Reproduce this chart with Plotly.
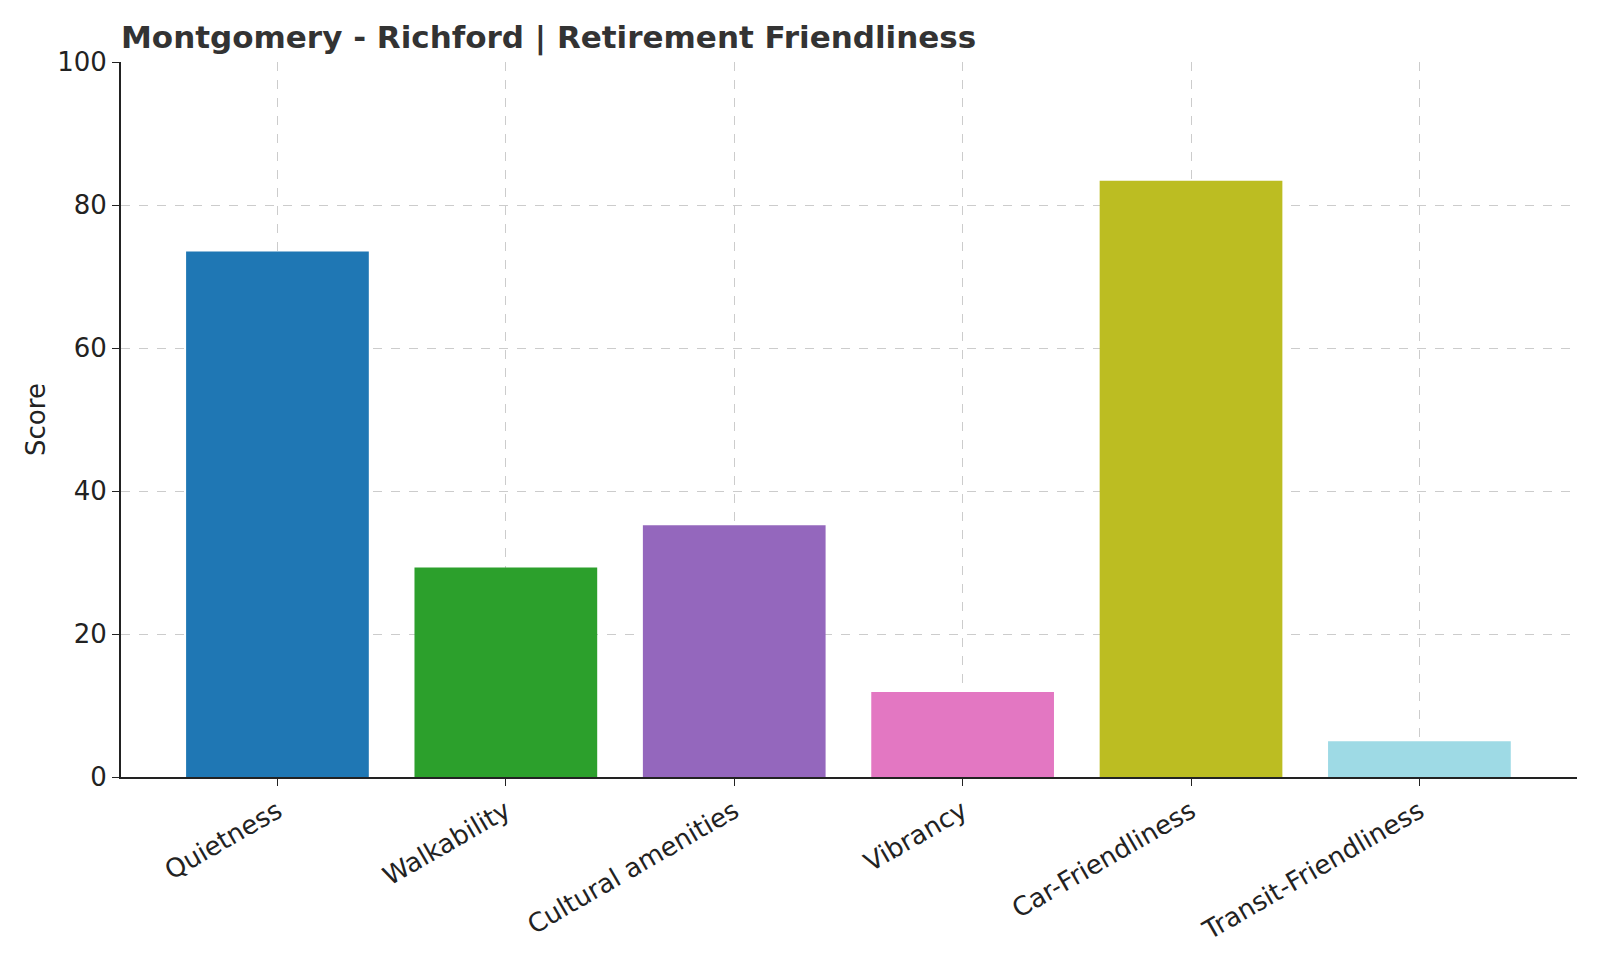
import plotly.graph_objects as go

categories = ["Quietness", "Walkability", "Cultural amenities", "Vibrancy",
              "Car-Friendliness", "Transit-Friendliness"]
scores = [73.5, 29.3, 35.2, 11.9, 83.4, 5.0]
bar_colors = ["#1f77b4", "#2ca02c", "#9467bd", "#e377c2", "#bcbd22", "#9edae5"]
y_ticks = [0, 20, 40, 60, 80, 100]

font_family = "DejaVu Sans"

fig = go.Figure()
fig.add_trace(go.Bar(x=categories, y=scores, marker_color=bar_colors,
                     marker_line_width=0, width=0.8))

# page body has an 8px margin, so keep the figure inside the window
fig.update_layout(
    width=1584, height=944,
    margin=dict(l=113, r=15, t=54, b=175),
    plot_bgcolor="white", paper_bgcolor="white",
    font=dict(family=font_family, size=26, color="#222222"),
    showlegend=False,
    title=dict(text="<b>Montgomery - Richford | Retirement Friendliness</b>",
               font=dict(family=font_family, size=31, color="#333333"),
               xref="paper", x=0, xanchor="left",
               yref="container", y=1 - 29 / 944, yanchor="middle"),
)

fig.update_xaxes(
    range=[-0.685, 5.69], tickangle=-30, automargin=False,
    showline=True, linecolor="#222222", linewidth=1.8,
    ticks="outside", ticklen=7, tickcolor="#222222",
    showgrid=True, gridcolor="#cccccc", griddash="dash", gridwidth=1,
    layer="above traces",
)
fig.update_yaxes(
    range=[0, 100], tickvals=y_ticks,
    showline=True, linecolor="#222222", linewidth=1.8,
    ticks="outside", ticklen=7, tickcolor="#222222",
    showgrid=True, gridcolor="#cccccc", griddash="dash", gridwidth=1,
    zeroline=False, layer="above traces",
    title=dict(text="Score", standoff=4, font=dict(size=26)),
)

fig.write_html("out.html")
